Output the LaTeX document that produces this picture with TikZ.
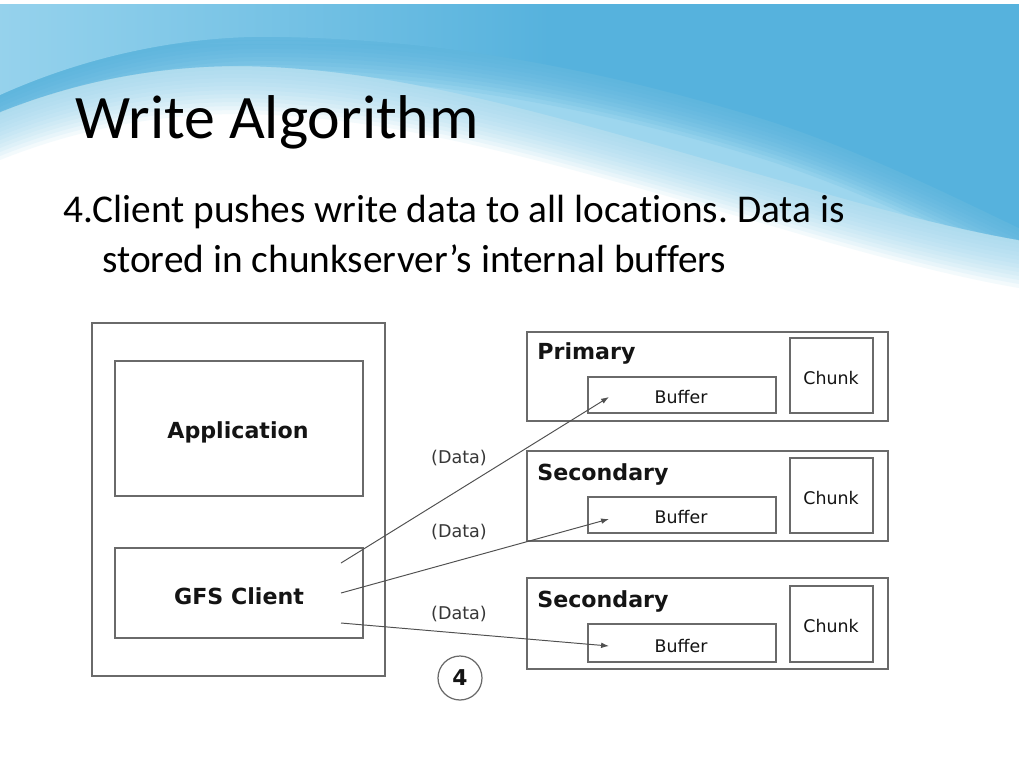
\documentclass[tikz,border=0pt]{standalone}
\usepackage{fontspec}
\setmainfont{Carlito}[Ligatures=NoCommon]
\newfontfamily\dv{DejaVu Sans}
\usetikzlibrary{fit,arrows.meta}
\definecolor{skyblue}{HTML}{56B2DD}
\definecolor{skymid}{HTML}{8FCFEB}
\definecolor{skylight}{HTML}{CDEAF6}
\definecolor{skypale}{HTML}{9DD6EE}
\definecolor{boxgray}{HTML}{6A6A6A}
\definecolor{linegray}{HTML}{505050}
\definecolor{txt}{HTML}{141414}
\pgfdeclarehorizontalshading{skyA}{100bp}{color(0bp)=(skylight); color(28bp)=(skymid); color(52bp)=(skyblue); color(100bp)=(skyblue)}
\def\pathAone{(0,4) -- (0,95) .. controls (100,50) and (200,35) .. (280,37) .. controls (450,40) and (600,70) .. (750,115) .. controls (850,145) and (950,195) .. (1019,228) -- (1019,4) -- cycle}
\def\pathAtwo{(0,4) -- (0,112) .. controls (80,80) and (160,66) .. (240,66) .. controls (400,68) and (550,115) .. (779,180) .. controls (880,210) and (960,230) .. (1019,240) -- (1019,4) -- cycle}
\begin{document}
\frenchspacing
\begin{tikzpicture}[x=0.02cm,y=-0.02cm,
  box/.style={draw=boxgray, line width=0.8pt, inner sep=0pt},
  arr/.style={draw=linegray, line width=0.55pt, -{Latex[length=4.5pt,width=3.2pt]}},
  bigb/.style={font=\dv\bfseries\fontsize{12.6}{14}\selectfont, text=txt, inner sep=0pt},
  small/.style={font=\dv\fontsize{9.9}{12}\selectfont, text=txt, inner sep=0pt},
  datal/.style={font=\dv\fontsize{10}{12}\selectfont, text=txt!85, inner sep=0pt, anchor=base}
]
\useasboundingbox (0,0) rectangle (1024,768);
\fill[white] (0,0) rectangle (1024,768);
% background wave
\foreach \i in {0,...,12} { \fill[skypale, opacity=0.12, shift={(0,\i*4)}] \pathAtwo; }
\fill[skypale] \pathAtwo;
\begin{scope}
  \clip \pathAtwo;
  \foreach \i in {0,...,10} { \fill[skyblue, opacity=0.16, shift={(0,\i*4)}] \pathAone; }
\end{scope}
\shade[shading=skyA] \pathAone;
\fill[white] (0,0) rectangle (1024,4);
\fill[white] (1019,0) rectangle (1024,768);
% texts
\node[anchor=base west, inner sep=0] (title) at (75,138) {\fontsize{35.2}{40}\selectfont Write Algorithm};
\node[anchor=base west, inner sep=0] (line1) at (63,222) {\fontsize{22.4}{26}\selectfont 4.Client pushes write data to all locations. Data is};
\node[anchor=base west, inner sep=0] (line2) at (102,272) {\fontsize{22.4}{26}\selectfont stored in chunkserver’s internal buffers};
% client side
\node[box, fit={(92,323) (385,676)}] (outer) {};
\node[box, fit={(115,361) (363,496)}] (app) {};
\node[box, fit={(115,548) (363,638)}] (client) {};
\node[bigb, anchor=base] (apptext) at (238,438) {Application};
\node[bigb, anchor=base] (clienttext) at (239,604) {GFS Client};
% servers
\node[box, fit={(527,332) (888,421)}] (prim) {};
\node[box, fit={(588,377) (776,413)}] (buf1) {};
\node[box, fit={(790,338) (873,413)}] (chk1) {};
\node[box, fit={(527,451) (888,541)}] (sec1) {};
\node[box, fit={(588,497) (776,533)}] (buf2) {};
\node[box, fit={(790,458) (873,533)}] (chk2) {};
\node[box, fit={(527,578) (888,669)}] (sec2) {};
\node[box, fit={(588,624) (776,662)}] (buf3) {};
\node[box, fit={(790,586) (873,662)}] (chk3) {};
\node[bigb, anchor=base west] (primtext) at (537,359) {Primary};
\node[bigb, anchor=base west] (sec1text) at (537,480) {Secondary};
\node[bigb, anchor=base west] (sec2text) at (537,607) {Secondary};
\node[small, anchor=base] (buf1t) at (681,403) {Buffer};
\node[small, anchor=base] (buf2t) at (681,523) {Buffer};
\node[small, anchor=base] (buf3t) at (681,652) {Buffer};
\node[small, anchor=base] (chk1t) at (831,384) {Chunk};
\node[small, anchor=base] (chk2t) at (831,504) {Chunk};
\node[small, anchor=base] (chk3t) at (831,632) {Chunk};
% data labels
\node[datal] (d1) at (459,463) {(Data)};
\node[datal] (d2) at (459,537) {(Data)};
\node[datal] (d3) at (459,619) {(Data)};
% arrows
\coordinate (s1) at (341,563);
\coordinate (s2) at (341,593);
\coordinate (s3) at (341,623);
\coordinate (t1) at (609,397);
\coordinate (t2) at (609,519);
\coordinate (t3) at (609,646);
\draw[arr] (s1) -- (t1);
\draw[arr] (s2) -- (t2);
\draw[arr] (s3) -- (t3);
% step circle
\node[circle, draw=boxgray, line width=0.7pt, minimum size=0.88cm, inner sep=0pt, font=\dv\bfseries\fontsize{12.4}{14}\selectfont, text=txt] (step) at (460,678) {4};
\end{tikzpicture}
\end{document}
